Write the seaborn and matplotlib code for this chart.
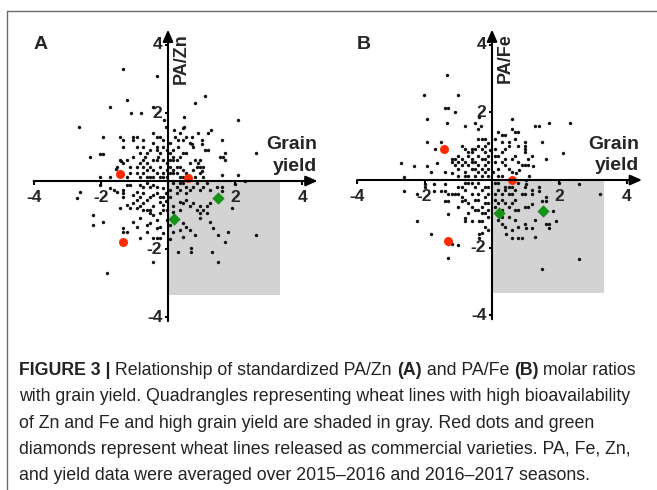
import matplotlib
matplotlib.use("Agg")
import matplotlib.pyplot as plt
from matplotlib.patches import Rectangle
from matplotlib.lines import Line2D
import pandas as pd
import seaborn as sns

# ---- data (standardized grain yield, standardized PA/Zn or PA/Fe) ----
a_pts = [
    # upper left
    (-1.33, 3.29), (-0.32, 3.09), (-1.23, 2.38), (-1.73, 2.19), (-1.10, 1.99), (-0.80, 1.99),
    (-0.45, 2.19), (-2.64, 1.60), (-0.12, 1.80), (-0.05, 1.60), (-1.93, 1.29), (-2.32, 0.70),
    (-2.02, 0.79), (-1.93, 0.79), (-2.02, 0.11), (-1.73, 0.11), (-1.41, 0.60), (-1.55, 0.35),
    (-1.43, 1.30), (-1.33, 1.21), (-1.03, 1.30), (-1.03, 1.21), (-0.93, 1.30), (-0.73, 1.21),
    (-0.44, 1.40), (-0.34, 1.30), (-0.24, 1.30), (-0.14, 1.21), (-0.44, 1.11), (-0.34, 1.01),
    (-0.34, 0.91), (-0.73, 1.01), (-1.33, 1.01), (-0.93, 1.01), (-0.68, 0.72), (-0.73, 0.62),
    (-0.63, 0.52), (-0.44, 0.62), (-0.34, 0.62), (-0.29, 0.72), (-0.24, 0.81), (-0.73, 0.42),
    (-0.63, 0.32), (-0.73, 0.23), (-0.44, 0.32), (-0.24, 0.42), (-0.14, 0.23), (-0.14, 0.13),
    (-0.04, 0.13), (-0.44, 0.13), (-1.13, 0.42), (-1.33, 0.52), (-1.43, 0.62), (-1.03, 0.72),
    (-1.23, 0.13), (-0.93, 0.23), (-0.53, 0.91), (-0.14, 0.62), (-0.04, 0.52), (-0.04, 0.91),
    (-0.14, 1.01), (-0.53, 0.13), (-0.83, 0.52), (-0.93, 0.42), (-1.23, 0.62), (-0.34, 0.23),
    (-0.24, 0.13), (-0.63, 0.81), (-0.83, 0.81), (-0.53, 0.42), (-0.04, 0.32), (-1.13, 0.23),
    (-0.63, 0.13), (-0.83, 0.13), (-1.53, 0.42),
    # upper right
    (0.80, 2.30), (1.10, 2.50), (0.49, 1.89), (0.49, 1.60), (2.09, 1.79), (0.19, 1.50),
    (1.28, 1.50), (1.20, 1.40), (0.90, 1.40), (0.70, 1.30), (1.60, 1.20), (0.21, 1.30),
    (0.31, 1.20), (1.00, 1.20), (1.00, 1.10), (0.70, 1.10), (0.31, 1.00), (1.10, 0.91),
    (1.20, 0.91), (1.70, 0.81), (1.65, 0.72), (1.70, 0.62), (2.62, 0.81), (0.80, 0.62),
    (0.90, 0.52), (0.95, 0.42), (1.60, 0.18), (2.09, 0.18), (0.16, 0.72), (0.16, 0.62),
    (0.26, 0.62), (0.36, 0.72), (0.46, 0.81), (0.55, 0.81), (0.26, 0.42), (0.36, 0.42),
    (0.46, 0.32), (0.06, 0.42), (0.16, 0.32), (0.16, 0.23), (0.26, 0.23), (0.36, 0.13),
    (0.55, 0.23), (0.75, 0.32), (0.85, 0.42), (0.95, 0.23), (1.05, 0.42), (1.05, 0.13),
    (0.80, 0.13), (0.65, 0.52), (0.46, 1.21), (0.55, 1.30), (0.65, 1.11), (0.36, 1.40),
    (0.46, 1.55), (0.75, 1.01), (1.54, 0.72), (0.06, 0.62), (0.06, 0.81), (0.06, 1.11),
    (0.16, 0.91), (0.06, 0.23), (0.46, 0.13), (1.00, 0.30), (0.95, 0.62),
    # lower left
    (-2.62, -0.31), (-2.72, -0.51), (-2.02, -0.12), (-1.73, -0.22), (-1.53, -0.31), (-1.43, -0.80),
    (-1.23, -0.71), (-1.13, -0.80), (-0.93, -0.80), (-2.22, -1.00), (-2.22, -1.29), (-1.92, -1.20),
    (-1.03, -1.20), (-0.83, -1.10), (-0.63, -1.29), (-0.63, -1.49), (-0.83, -1.69), (-0.34, -1.39),
    (-0.44, -1.69), (-0.34, -1.69), (-0.24, -1.69), (-0.44, -2.37), (-1.83, -2.70), (-1.33, -1.39),
    (-1.33, -1.49), (-1.23, -1.49), (-1.62, -0.26), (-1.33, -0.26), (-1.33, -0.36), (-1.33, -0.46),
    (-1.03, -0.66), (-0.93, -0.56), (-0.83, -0.46), (-0.73, -0.36), (-0.73, -0.66), (-0.63, -0.56),
    (-0.53, -0.46), (-0.44, -0.41), (-0.34, -0.36), (-0.24, -0.46), (-0.24, -0.61), (-0.14, -0.46),
    (-0.14, -0.71), (-0.44, -0.75), (-0.53, -0.85), (-0.73, -0.85), (-0.83, -0.75), (-0.93, -1.34),
    (-0.53, -1.25), (-0.34, -1.15), (-0.24, -1.34), (-0.14, -1.54), (-0.04, -1.15), (-1.13, -0.12),
    (-0.83, -0.12), (-0.53, -0.17), (-0.34, -0.17), (-0.14, -0.22), (-0.44, -0.12), (-0.05, -0.35),
    (-0.05, -0.60), (-0.63, -0.05), (-0.93, -0.31), (-1.03, -0.41), (-0.53, -0.95), (-0.44, -1.00),
    (-0.14, -0.85), (-0.04, -0.85), (-1.23, -0.12), (-0.73, -0.17), (-0.24, -0.95), (-0.63, -0.85),
    # lower right
    (1.99, -0.09), (2.29, 0.00), (1.60, -0.19), (1.60, -0.28), (1.89, -0.80), (1.80, -1.49),
    (1.70, -1.78), (2.62, -1.59), (0.31, -2.08), (0.68, -1.98), (0.68, -2.08), (1.30, -2.08),
    (1.50, -2.37), (0.80, -1.59), (1.50, -1.59), (0.16, -0.07), (0.26, -0.17), (0.36, -0.26),
    (0.26, -0.36), (0.46, -0.07), (0.55, -0.17), (0.65, -0.26), (0.75, -0.17), (0.85, -0.07),
    (0.95, -0.26), (1.05, -0.17), (1.15, -0.07), (1.25, -0.26), (1.45, -0.17), (0.36, -0.61),
    (0.46, -0.66), (0.55, -0.56), (0.65, -0.75), (0.75, -0.66), (0.85, -0.85), (0.95, -0.75),
    (1.05, -0.85), (1.15, -0.75), (1.25, -0.66), (0.36, -0.85), (0.46, -1.25), (0.55, -1.34),
    (0.65, -1.44), (0.36, -1.44), (0.46, -1.64), (0.16, -0.75), (0.16, -0.90), (0.95, -0.95),
    (1.15, -0.95), (0.95, -1.10), (1.35, -1.39), (1.25, -1.20), (0.06, -0.26), (0.06, -0.46),
    (0.06, -1.30), (0.16, -1.50), (0.55, -0.36), (0.06, -1.70), (0.36, -0.07),
]
a_red = [(-1.43, 0.20), (0.60, 0.10), (-1.33, -1.78)]
a_green = [(0.19, -1.11), (1.49, -0.51)]

b_pts = [
    # upper left
    (-1.33, 3.12), (-2.02, 2.51), (-1.01, 2.51), (-1.40, 2.12), (-1.30, 2.12), (-1.11, 2.02),
    (-1.92, 1.80), (-1.33, 1.70), (-0.81, 1.60), (-0.50, 1.70), (-0.40, 1.85), (-0.32, 1.60),
    (-0.41, 1.51), (-1.92, 1.11), (-1.50, 1.11), (-1.70, 0.91), (-2.71, 0.50), (-2.32, 0.40),
    (-1.92, 0.40), (-1.62, 0.50), (-2.61, 0.10), (-0.22, 1.00), (-1.80, 0.23), (-1.40, 0.23),
    (-1.20, 0.20), (-0.50, 0.52), (-0.41, 0.43), (-0.31, 0.33), (-0.21, 0.23), (-0.11, 0.33),
    (-0.11, 0.13), (-0.21, 0.43), (-0.31, 0.62), (-0.80, 0.23), (-0.80, 0.13), (-0.70, 0.13),
    (-1.20, 0.62), (-1.20, 0.52), (-1.10, 0.62), (-1.00, 0.72), (-0.90, 0.62), (-0.80, 0.92),
    (-0.70, 0.82), (-0.70, 0.72), (-0.60, 0.82), (-0.80, 0.52), (-0.41, 1.22), (-0.31, 1.22),
    (-0.21, 1.22), (-0.41, 1.02), (-0.50, 0.92), (-0.21, 0.82), (-0.11, 0.72), (-0.31, 0.13),
    (-0.60, 0.33), (-1.00, 0.33), (-0.90, 1.00), (-0.60, 0.92), (-0.41, 0.23), (-0.50, 0.33),
    (-0.60, 0.52), (-0.70, 0.43), (-0.90, 0.43), (-1.00, 0.52), (-0.11, 0.52), (-0.05, 0.90),
    (-0.21, 0.62), (-0.41, 0.72), (-0.50, 0.13), (-1.00, 0.13), (-0.11, 1.10), (-0.31, 0.92),
    (-0.60, 0.62), (-1.10, 0.43),
    # upper right
    (0.58, 1.81), (1.28, 1.61), (1.38, 1.61), (0.58, 1.51), (0.19, 1.42), (0.68, 1.42),
    (0.39, 1.32), (0.49, 1.12), (0.29, 1.12), (0.09, 1.22), (0.78, 1.42), (0.68, 1.22),
    (0.98, 1.12), (0.78, 1.02), (0.98, 0.92), (1.48, 1.12), (0.19, 0.72), (0.29, 0.82),
    (0.39, 0.92), (0.49, 1.02), (0.29, 0.52), (0.39, 0.43), (0.49, 0.33), (0.58, 0.23),
    (0.19, 0.33), (0.29, 0.13), (0.58, 0.62), (0.78, 0.52), (0.88, 0.43), (0.98, 0.43),
    (1.08, 0.43), (1.18, 0.72), (1.08, 0.62), (0.98, 0.82), (0.09, 0.92), (0.09, 0.52),
    (0.04, 0.23), (1.69, 1.70), (2.30, 1.70), (0.98, 1.00), (2.10, 0.81), (1.60, 0.61),
    (1.23, 0.40), (1.10, 0.12), (0.70, 0.20), (0.80, 0.30), (0.39, 0.62), (0.19, 0.13),
    (0.09, 0.72), (0.68, 0.72), (0.29, 1.32),
    # lower left
    (-2.61, -0.32), (-2.22, -0.42), (-1.99, -0.12), (-1.99, -0.22), (-1.72, -0.12), (-1.72, -0.32),
    (-1.50, -0.32), (-1.40, -0.32), (-1.40, -0.12), (-1.30, -0.42), (-1.20, -0.42), (-1.10, -0.42),
    (-1.40, -0.61), (-1.30, -0.61), (-1.31, -1.01), (-2.22, -1.21), (-1.81, -1.60), (-1.01, -0.81),
    (-0.90, -0.61), (-0.80, -1.11), (-0.80, -1.21), (-0.60, -1.21), (-0.40, -1.21), (-0.30, -1.21),
    (-0.40, -1.71), (-0.40, -1.61), (-1.20, -1.90), (-1.30, -1.90), (-1.01, -1.92), (-1.31, -2.32),
    (-1.00, -0.40), (-0.90, -0.50), (-0.80, -0.59), (-0.70, -0.69), (-0.60, -0.79), (-0.50, -0.89),
    (-0.31, -0.99), (-0.21, -0.99), (-0.11, -1.09), (-1.00, -0.20), (-0.80, -0.10), (-0.70, -0.10),
    (-0.50, -0.20), (-0.41, -0.10), (-0.31, -0.30), (-0.21, -0.20), (-0.11, -0.40), (-0.41, -0.59),
    (-0.21, -0.69), (-0.11, -0.89), (-0.70, -0.99), (-0.21, -1.39), (-0.11, -1.49), (-0.31, -1.58),
    (-0.60, -0.40), (-0.41, -0.40), (-0.21, -0.50), (-0.11, -0.20), (-0.31, -0.79), (-0.50, -0.59),
    (-0.80, -0.30), (-0.60, -0.10), (-0.90, -0.20), (-0.11, -0.69), (-0.41, -0.89),
    # lower right
    (0.09, -0.10), (0.19, -0.30), (0.39, -0.20), (0.39, -0.30), (0.49, -0.20), (0.49, -0.40),
    (0.58, -0.20), (0.58, -0.40), (0.68, -0.30), (0.88, -0.40), (0.98, -0.20), (0.98, -0.40),
    (1.18, -0.30), (1.38, -0.20), (0.09, -0.59), (0.29, -0.59), (0.39, -0.69), (0.49, -0.79),
    (0.58, -0.69), (0.68, -0.89), (0.78, -0.89), (0.98, -0.79), (1.08, -0.79), (0.29, -0.89),
    (0.49, -1.09), (0.68, -1.19), (0.39, -1.39), (0.58, -1.49), (0.78, -1.39), (0.98, -1.29),
    (1.28, -1.19), (0.58, -1.73), (0.78, -1.73), (0.88, -1.73), (1.28, -1.68), (1.00, 0.00),
    (1.00, -0.12), (1.40, -0.32), (2.00, -0.10), (2.59, -0.12), (3.21, -0.42), (1.20, -0.42),
    (1.60, -0.51), (1.60, -0.61), (1.20, -0.71), (1.80, -0.91), (1.90, -1.21), (1.60, -1.31),
    (1.70, -1.31), (1.70, -1.41), (0.31, -1.31), (1.00, -1.41), (1.20, -1.41), (0.41, -1.60),
    (2.59, -2.33), (1.49, -2.62), (0.10, -0.80), (0.30, -1.10), (1.49, -0.61), (0.19, -0.10),
    (0.29, -0.40), (0.78, -0.10), (0.09, -0.40), (0.19, -0.69), (0.68, -0.59), (0.19, -1.19),
]
b_red = [(-1.41, 0.91), (0.60, 0.00), (-1.32, -1.79)]
b_green = [(0.21, -0.99), (1.50, -0.91)]

tick_vals = [-4, -2, 2, 4]
shade_w, shade_h = 3.33, 3.35   # gray quadrangle (high yield, low PA ratio)

caption = [
    [("FIGURE 3 |", "bold"), (" Relationship of standardized PA/Zn ", "normal"), ("(A)", "bold"),
     (" and PA/Fe ", "normal"), ("(B)", "bold"), (" molar ratios", "normal")],
    [("with grain yield. Quadrangles representing wheat lines with high bioavailability", "normal")],
    [("of Zn and Fe and high grain yield are shaded in gray. Red dots and green", "normal")],
    [("diamonds represent wheat lines released as commercial varieties. PA, Fe, Zn,", "normal")],
    [("and yield data were averaged over 2015\u20132016 and 2016\u20132017 seasons.", "normal")],
]

W, H = 657, 490
sns.set_theme(style="white")
plt.rcParams["font.family"] = ["Liberation Sans", "DejaVu Sans"]
fig = plt.figure(figsize=(W / 100, H / 100), dpi=100)

LIM = (-4.3, 4.6)


def px_axes(x0, y0, ux, uy):
    # axes whose data origin sits at pixel (x0, y0), ux/uy pixels per unit
    left = x0 + LIM[0] * ux
    right = x0 + LIM[1] * ux
    top = y0 - LIM[1] * uy
    bottom = y0 - LIM[0] * uy
    return fig.add_axes([left / W, 1 - bottom / H, (right - left) / W, (bottom - top) / H])


def draw_panel(ax, pts, red, green, ylab, letter, lab_x):
    ax.add_patch(Rectangle((0, -shade_h), shade_w, shade_h, facecolor="#d3d3d3",
                           edgecolor="none", zorder=0))
    df = pd.DataFrame(pts, columns=["yield", "pa"])
    sns.scatterplot(data=df, x="yield", y="pa", ax=ax, color="#111111", s=6,
                    linewidth=0, zorder=3, legend=False)
    rd = pd.DataFrame(red, columns=["yield", "pa"])
    sns.scatterplot(data=rd, x="yield", y="pa", ax=ax, color="#ff2a00", s=42,
                    linewidth=0, zorder=4, legend=False)
    gd = pd.DataFrame(green, columns=["yield", "pa"])
    sns.scatterplot(data=gd, x="yield", y="pa", ax=ax, color="#17911a", marker="D",
                    s=40, linewidth=0, zorder=4, legend=False)
    ax.set_xlim(*LIM)
    ax.set_ylim(*LIM)
    ax.axis("off")

    arrow = dict(arrowstyle="-|>,head_length=0.5,head_width=0.22", lw=1.5, color="black",
                 shrinkA=0, shrinkB=0, mutation_scale=14)
    ax.annotate("", xy=(4.45, 0), xytext=(-4.0, 0), arrowprops=arrow, zorder=5)
    ax.annotate("", xy=(0, 4.45), xytext=(0, -4.12), arrowprops=arrow, zorder=5)
    for t in tick_vals:
        ax.plot([t, t], [0, -0.12], color="black", lw=1.5, zorder=5, solid_capstyle="butt")
        ax.plot([-0.09, 0], [t, t], color="black", lw=1.5, zorder=5, solid_capstyle="butt")
        ax.text(t, -0.5, str(t), ha="center", va="center", fontsize=12.5, fontweight="bold")
        ax.text(-0.17, t, str(t), ha="right", va="center", fontsize=12.5, fontweight="bold")

    ax.text(0.38, 3.6, ylab, rotation=90, ha="center", va="center", fontsize=13,
            fontweight="bold")
    ax.text(lab_x, 1.06, "Grain", ha="right", va="center", fontsize=14, fontweight="bold")
    ax.text(lab_x, 0.43, "yield", ha="right", va="center", fontsize=14, fontweight="bold")
    ax.text(-3.8, 4.0, letter, ha="center", va="center", fontsize=14, fontweight="bold")


ax_a = px_axes(168, 181, 33.6, 34.0)
draw_panel(ax_a, a_pts, a_red, a_green, "PA/Zn", "A", 4.45)
ax_b = px_axes(492, 180, 33.7, 33.8)
draw_panel(ax_b, b_pts, b_red, b_green, "PA/Fe", "B", 4.38)

# frame around the figure panel
fig.add_artist(Line2D([7 / W, 1], [1 - 11 / H, 1 - 11 / H], transform=fig.transFigure,
                      color="#6b6b6b", lw=1))
fig.add_artist(Line2D([7 / W, 7 / W], [0, 1 - 11 / H], transform=fig.transFigure,
                      color="#6b6b6b", lw=1))

# caption, drawn piece by piece so the bold parts sit inline
renderer = fig.canvas.get_renderer()
for i, line in enumerate(caption):
    x = 19
    y = 375 + i * 26.3
    for s, w in line:
        t = fig.text(x / W, 1 - y / H, s, fontsize=12.8, fontweight=w, ha="left",
                     va="baseline", color="#222222")
        x += t.get_window_extent(renderer=renderer).width

fig.savefig("out.png", dpi=100)
